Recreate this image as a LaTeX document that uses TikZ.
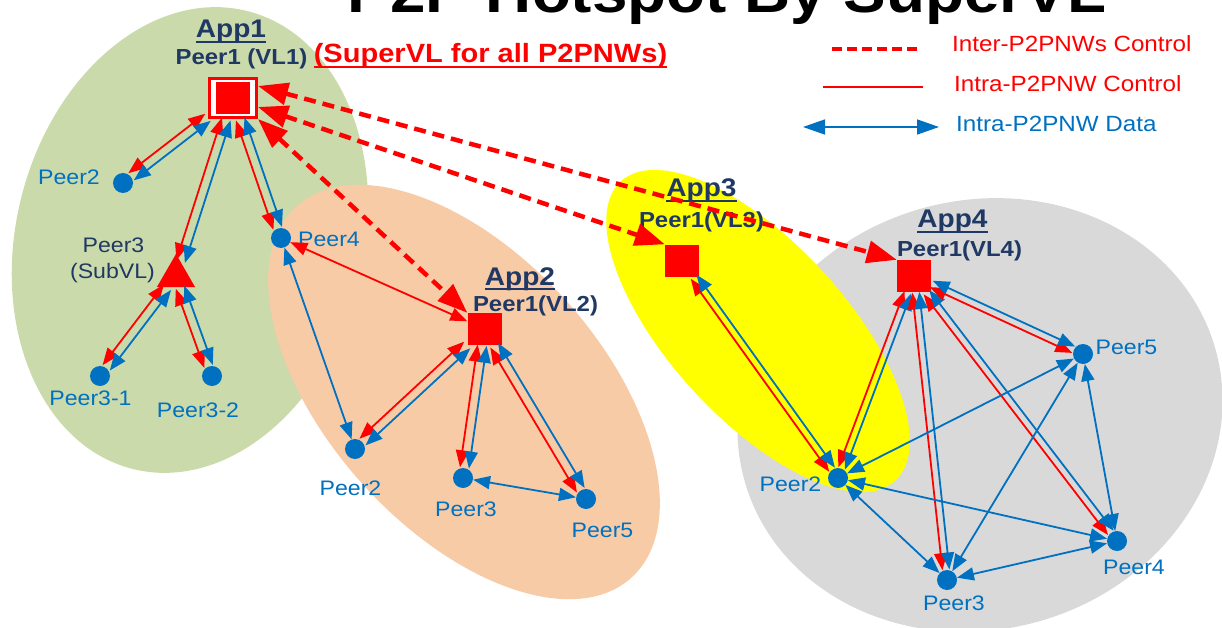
\documentclass[tikz,border=0pt]{standalone}
\usepackage{fontspec}
\setmainfont{Liberation Sans}[FakeStretch=1.1]
\usetikzlibrary{arrows.meta,calc,shapes.geometric}
\definecolor{pblue}{RGB}{0,112,192}
\definecolor{pred}{RGB}{255,0,0}
\definecolor{navy}{RGB}{31,56,100}
\definecolor{appgreen}{RGB}{203,218,170}
\definecolor{apporange}{RGB}{248,203,167}
\definecolor{appyellow}{RGB}{255,255,0}
\definecolor{appgray}{RGB}{217,217,217}
\newcommand\setfs[1]{\fontsize{#1}{#1}\selectfont}
\newcommand\ulbox[1]{\setbox0\hbox{#1}\rlap{\rule[-0.2em]{\wd0}{0.09em}}\box0}
% pair of connectors: red control on one side, blue data on the other
\newcommand\duo[3]{%
  \path (#1) -- (#2) coordinate[pos=0] (#1-#2-s) coordinate[pos=1] (#1-#2-e);
  \draw[ctlline] ($(#1-#2-s)!#3!-90:(#1-#2-e)$) -- ($(#1-#2-e)!#3!90:(#1-#2-s)$);
  \draw[datline] ($(#1-#2-s)!#3!90:(#1-#2-e)$) -- ($(#1-#2-e)!#3!-90:(#1-#2-s)$);}
\begin{document}
\begin{tikzpicture}[x=1pt,y=-1pt,
  smalltip/.tip={Triangle[length=17pt,width=13pt]},
  bigtip/.tip={Triangle[length=30pt,width=22pt]},
  legtip/.tip={Triangle[length=22pt,width=15pt]},
  ctlline/.style={pred,line width=1.8pt,arrows={smalltip-smalltip}},
  datline/.style={pblue,line width=1.8pt,arrows={smalltip-smalltip}},
  interline/.style={pred,line width=4.5pt,dash pattern=on 12pt off 7pt,arrows={bigtip-bigtip}},
  peerdot/.style={circle,fill=pblue,inner sep=0pt,minimum size=20pt},
  vlsq/.style={rectangle,fill=pred,inner sep=0pt,minimum width=34pt,minimum height=32pt},
  plab/.style={inner sep=0pt,anchor=base,text=pblue,font=\setfs{21}},
  nlab/.style={inner sep=0pt,anchor=base,text=navy,font=\setfs{21}},
  applab/.style={inner sep=0pt,anchor=base,text=navy,font=\setfs{25.5}\bfseries},
  vllab/.style={inner sep=0pt,anchor=base,text=navy,font=\setfs{21.75}\bfseries},
  leglab/.style={inner sep=0pt,anchor=base west,font=\setfs{22}}]
\useasboundingbox (0,0) rectangle (1222,628);
\clip (0,0) rectangle (1222,628);

% ---- application areas
\fill[appgreen,rotate around={-14:(190,240)}] (190,240) ellipse [x radius=174,y radius=236];
\fill[apporange,rotate around={-48:(464,392)}] (464,392) ellipse [x radius=250,y radius=137];
\fill[appgray,rotate around={15.4:(980,415)}] (980,415) ellipse [x radius=244.5,y radius=214.6];
\fill[appyellow,rotate around={-47.5:(758,331)}] (758,331) ellipse [x radius=203,y radius=88];

% ---- title (cut by the top edge)
\node[font=\setfs{58}\bfseries,inner sep=0pt,anchor=base] (title) at (727,13) {P2P Hotspot By SuperVL};

% ---- labels
\node[applab] (app1) at (231,38) {\ulbox{App1}};
\node[vllab] (vl1lab) at (241.5,65) {Peer1 (VL1)};
\node[inner sep=0pt,anchor=base,text=pred,font=\setfs{26.4}\bfseries] (superlab) at (490.5,63) {\ulbox{(SuperVL for all P2PNWs)}};
\node[plab] (lp12) at (69,185) {Peer2};
\node[nlab] (lp13a) at (113.5,252) {Peer3};
\node[nlab] (lp13b) at (112.5,278) {(SubVL)};
\node[plab] (lp131) at (90.5,405) {Peer3-1};
\node[plab] (lp132) at (198,417) {Peer3-2};
\node[plab] (lp4) at (329,247) {Peer4};

\node[applab] (app2) at (520,285) {\ulbox{App2}};
\node[vllab] (vl2lab) at (535.5,311) {Peer1(VL2)};
\node[plab] (lp22) at (350.5,495) {Peer2};
\node[plab] (lp23) at (466,516.5) {Peer3};
\node[plab] (lp25) at (602.5,537.5) {Peer5};

\node[applab] (app3) at (701.5,197) {\ulbox{App3}};
\node[vllab] (vl3lab) at (701.5,228) {Peer1(VL3)};

\node[applab] (app4) at (952.5,228) {\ulbox{App4}};
\node[vllab] (vl4lab) at (959.5,256) {Peer1(VL4)};
\node[plab] (lq2) at (790.5,491.5) {Peer2};
\node[plab] (lq5) at (1126.5,354) {Peer5};
\node[plab] (lq4) at (1134,574) {Peer4};
\node[plab] (lq3) at (954,610) {Peer3};

% ---- peers
\node[draw=pred,line width=3pt,fill=white,minimum width=47pt,minimum height=39pt,inner sep=0pt] (vl1) at (233,98) {};
\node[vlsq] (vl1in) at (233,98) {};
\node[peerdot] (p12) at (123,183) {};
\node[regular polygon,regular polygon sides=3,fill=pred,inner sep=0pt,minimum size=44pt] (p13) at (176,276) {};
\node[peerdot] (p131) at (100,376) {};
\node[peerdot] (p132) at (212,376) {};
\node[peerdot] (p4) at (281,238) {};

\node[vlsq] (vl2) at (484.5,329) {};
\node[peerdot] (p22) at (355,449) {};
\node[peerdot] (p23) at (463,478) {};
\node[peerdot] (p25) at (586,499) {};

\node[vlsq] (vl3) at (682,260.5) {};

\node[vlsq] (vl4) at (914,276) {};
\node[peerdot] (q2) at (838,478) {};
\node[peerdot] (q3) at (947,580) {};
\node[peerdot] (q4) at (1117,541) {};
\node[peerdot] (q5) at (1083,354) {};

% ---- intra-P2PNW control + data pairs
\duo{vl1}{p12}{4.5pt}
\duo{vl1}{p13}{4.5pt}
\duo{vl1}{p4}{4.5pt}
\duo{p13}{p131}{4.5pt}
\duo{p13}{p132}{4.5pt}
\duo{vl2}{p22}{4.5pt}
\duo{vl2}{p23}{4.5pt}
\duo{vl2}{p25}{4.5pt}
\duo{vl3}{q2}{3.5pt}
\duo{vl4}{q2}{3.5pt}
\duo{vl4}{q3}{3.5pt}
\duo{vl4}{q4}{3.5pt}
\duo{vl4}{q5}{3.5pt}

% ---- single connectors
\draw[ctlline] (p4) -- (vl2);
\draw[datline] (p4) -- (p22);
\draw[datline] (p23) -- (p25);
\draw[datline] (q2) -- (q5);
\draw[datline] (q2) -- (q4);
\draw[datline] (q2) -- (q3);
\draw[datline] (q3) -- (q4);
\draw[datline] (q3) -- (q5);
\draw[datline] (q5) -- (q4);

% ---- inter-P2PNW control
\draw[interline] ([yshift=-9pt]vl1.north east) -- (vl4.north west);
\draw[interline] ([yshift=-9pt]vl1.east) -- (vl3.north west);
\draw[interline] (vl1.south east) -- (vl2.north west);

% ---- legend
\coordinate (lga) at (832,49);
\coordinate (lgb) at (917,49);
\draw[pred,line width=4.5pt,dash pattern=on 10pt off 5pt] (lga) -- (lgb);
\node[leglab,text=pred] (lgt1) at (952,52) {Inter-P2PNWs Control};
\coordinate (lgc) at (823,87);
\coordinate (lgd) at (923,87);
\draw[pred,line width=1.6pt] (lgc) -- (lgd);
\node[leglab,text=pred] (lgt2) at (954,92) {Intra-P2PNW Control};
\coordinate (lge) at (803,127);
\coordinate (lgf) at (939,127);
\draw[pblue,line width=1.6pt,arrows={legtip-legtip}] (lge) -- (lgf);
\node[leglab,text=pblue] (lgt3) at (956,132) {Intra-P2PNW Data};
\end{tikzpicture}
\end{document}
